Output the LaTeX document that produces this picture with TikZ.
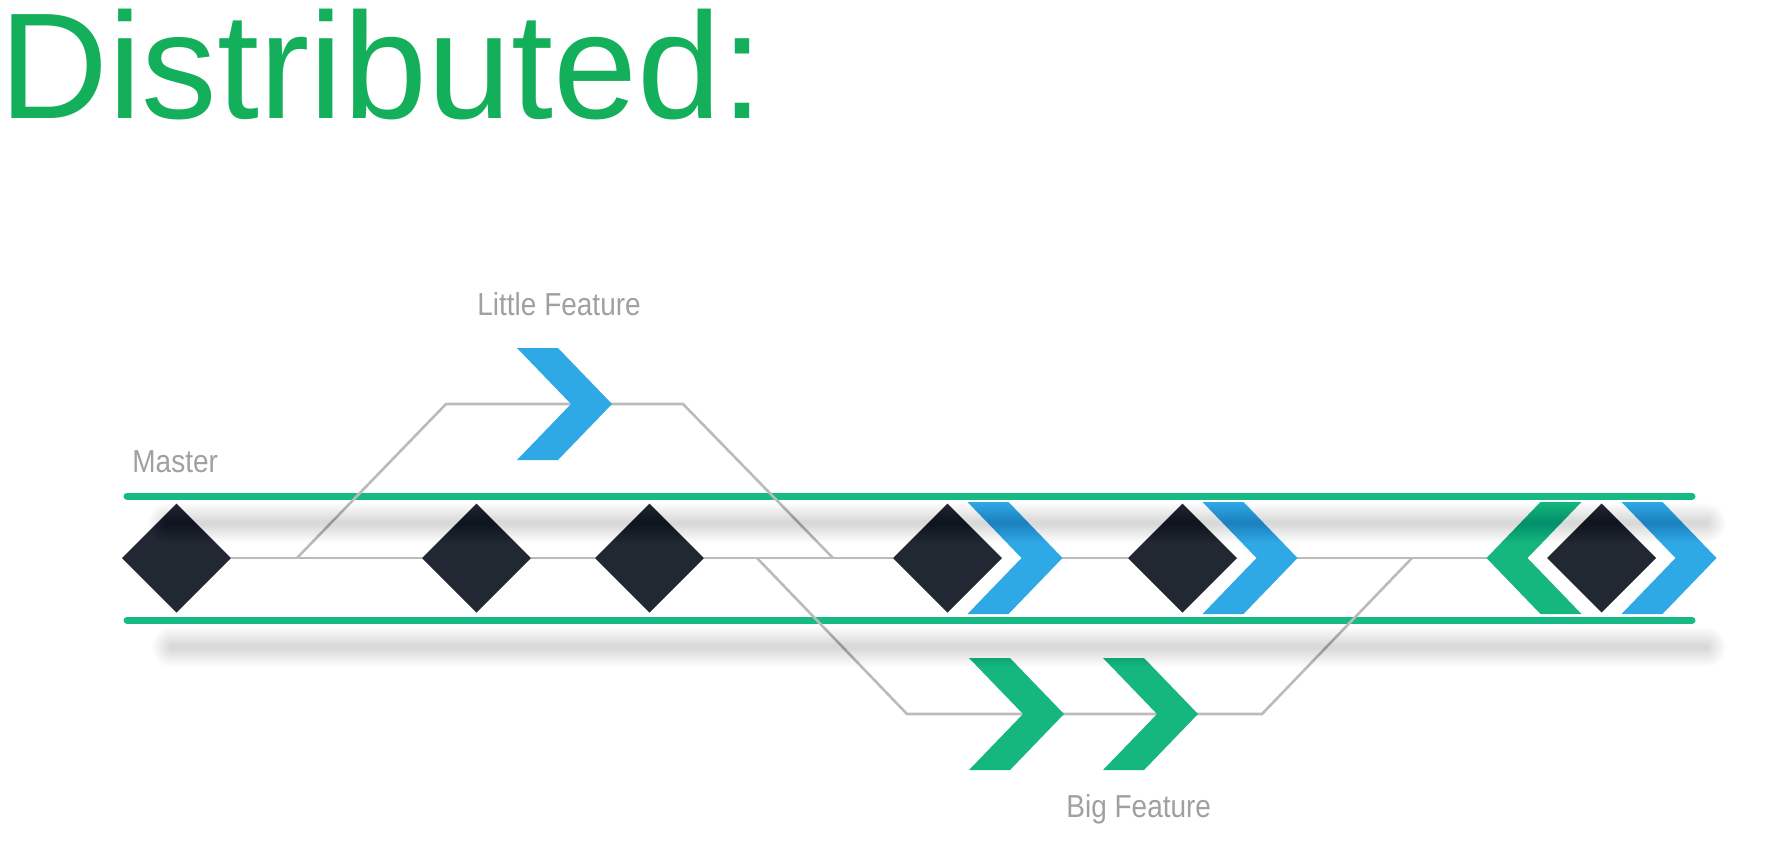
\documentclass[tikz,border=0pt]{standalone}
\usepackage{fontspec}
\setmainfont{Liberation Sans}
\newfontfamily\labelfont[FakeStretch=0.88]{Liberation Sans}
\usetikzlibrary{shapes.geometric}
\definecolor{titlegreen}{HTML}{14AF5A}
\definecolor{railgreen}{HTML}{17BA84}
\definecolor{chevgreen}{HTML}{15B77E}
\definecolor{chevblue}{HTML}{2FA9E6}
\definecolor{diamondc}{HTML}{222831}
\definecolor{linegray}{HTML}{BBBBBB}
\definecolor{labelgray}{HTML}{A0A0A0}
\begin{document}
\begin{tikzpicture}[x=0.5pt,y=-0.5pt,
  diam/.style={shape=diamond, fill=diamondc, minimum width=54.5pt, minimum height=54.5pt,
               inner sep=0pt, outer sep=0pt, shape aspect=1},
  lbl/.style={anchor=base west, inner sep=0pt, text=labelgray,
              font=\labelfont\fontsize{15.9pt}{18pt}\selectfont},
  gline/.style={draw=linegray, line width=1.3pt, line join=miter},
  rail/.style={draw=railgreen, line width=3.5pt, line cap=round},
  shadowline/.style={draw=black, line cap=round},
  pics/chev/.style={code={\fill[#1] (0,-56) -- (41,-56) -- (95,0) -- (41,56) -- (0,56) -- (54,0) -- cycle;}}
]
\useasboundingbox (0,0) rectangle (1778,843);

% title
\node[anchor=base west, inner sep=0pt, text=titlegreen,
      font=\fontsize{75.5pt}{80pt}\selectfont] (title) at (-1,118) {Distributed:};

% rails
\coordinate (r1a) at (127,496); \coordinate (r1b) at (1692,496);
\coordinate (r2a) at (127,620); \coordinate (r2b) at (1692,620);
\draw[rail] (r1a) -- (r1b);
\draw[rail] (r2a) -- (r2b);

% diamonds
\node[diam] (d1) at (176.5,558) {};
\node[diam] (d2) at (476.5,558) {};
\node[diam] (d3) at (649.5,558) {};
\node[diam] (d4) at (947.5,558) {};
\node[diam] (d5) at (1182.5,558) {};
\node[diam] (d6) at (1601.5,558) {};

% master line segments
\coordinate (t4) at (1062,558);
\coordinate (t5) at (1297,558);
\coordinate (g6) at (1487,558);
\draw[gline] (d1.east) -- (d2.west);
\draw[gline] (d2.east) -- (d3.west);
\draw[gline] (d3.east) -- (d4.west);
\draw[gline] (t4) -- (d5.west);
\draw[gline] (t5) -- (g6);

% little feature branch
\coordinate (lfA) at (297,558);
\coordinate (lfB) at (446,404);
\coordinate (lfC) at (683,404);
\coordinate (lfD) at (833,558);
\draw[gline] (lfA) -- (lfB) -- (lfC) -- (lfD);

% big feature branch
\coordinate (bfA) at (757,558);
\coordinate (bfB) at (907,714);
\coordinate (bfC) at (1262,714);
\coordinate (bfD) at (1412,558);
\draw[gline] (bfA) -- (bfB) -- (bfC) -- (bfD);

% chevrons
\pic at (517,404) {chev=chevblue};
\pic at (967.5,558) {chev=chevblue};
\pic at (1202.5,558) {chev=chevblue};
\pic at (1621.5,558) {chev=chevblue};
\pic[xscale=-1] at (1581.5,558) {chev=chevgreen};
\pic at (969,714) {chev=chevgreen};
\pic at (1103,714) {chev=chevgreen};

% soft shadows
\coordinate (s1a) at (168,523); \coordinate (s1b) at (1706,523);
\coordinate (s2a) at (172,647); \coordinate (s2b) at (1706,647);
\foreach \w in {2,3,...,20}{
  \draw[shadowline, line width=\w pt, opacity=0.008] (s1a) -- (s1b);
  \draw[shadowline, line width=\w pt, opacity=0.008] (s2a) -- (s2b);
}

% labels
\node[lbl] (master) at (132,472) {Master};
\node[lbl] (little) at (477,315) {Little Feature};
\node[lbl] (big) at (1066,817) {Big Feature};
\end{tikzpicture}
\end{document}
